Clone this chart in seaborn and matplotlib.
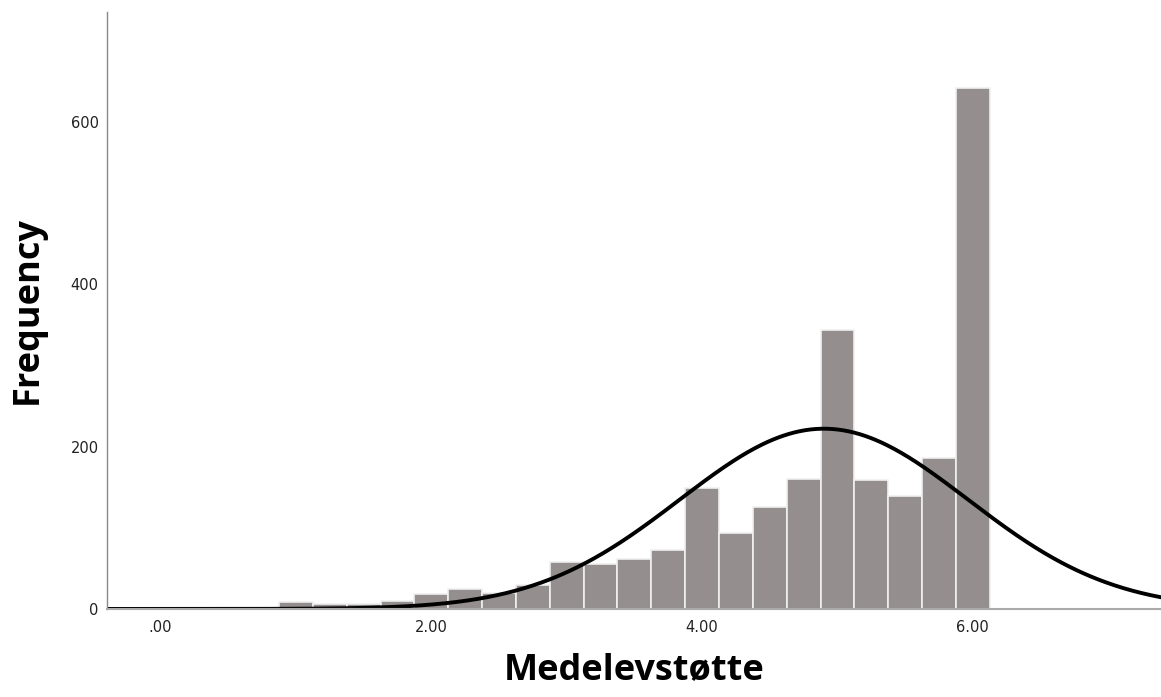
import numpy as np
import pandas as pd
import seaborn as sns
import matplotlib.pyplot as plt

# Histogram bins (centres) and counts
bin_centers = [1.00, 1.25, 1.50, 1.75, 2.00, 2.25, 2.50, 2.75, 3.00, 3.25, 3.50,
               3.75, 4.00, 4.25, 4.50, 4.75, 5.00, 5.25, 5.50, 5.75, 6.00]
counts = [9, 6, 6, 10, 19, 25, 20, 30, 58, 55, 62,
          73, 149, 94, 125, 160, 344, 159, 139, 186, 641]
bin_width = 0.25

# Normal curve parameters (SPSS-style fitted curve)
mean_val = 4.90
sd_val = 1.065

x_ticks = [0, 2, 4, 6]
x_ticklabels = ['.00', '2.00', '4.00', '6.00']
y_ticks = [0, 200, 400, 600]

df = pd.DataFrame({'Medelevstøtte': bin_centers, 'count': counts})
edges = [c - bin_width / 2 for c in bin_centers] + [bin_centers[-1] + bin_width / 2]

sns.set_style('white')
plt.rcParams['font.family'] = ['DejaVu Sans']

fig = plt.figure(figsize=(11.61, 6.97), dpi=100)
ax = fig.add_axes([0.0922, 0.1263, 0.9078, 0.8565])

sns.histplot(data=df, x='Medelevstøtte', weights='count', bins=edges, ax=ax,
             color='#948f8e', alpha=1.0, edgecolor='#f0f0f0', linewidth=1.2)

# Fitted normal curve scaled to frequency
n_total = sum(counts)
xs = np.linspace(-0.5, 7.5, 600)
ys = n_total * bin_width / (sd_val * np.sqrt(2 * np.pi)) * np.exp(-0.5 * ((xs - mean_val) / sd_val) ** 2)
sns.lineplot(x=xs, y=ys, ax=ax, color='black', linewidth=2.8)

ax.set_xlim(-0.395, 7.39)
ax.set_ylim(0, 735)
ax.set_xticks(x_ticks)
ax.set_xticklabels(x_ticklabels)
ax.set_yticks(y_ticks)
ax.tick_params(axis='both', length=0, labelsize=10.5, colors='#222222')
ax.tick_params(axis='x', pad=8)
ax.tick_params(axis='y', pad=6)

for s in ['top', 'right']:
    ax.spines[s].set_visible(False)
ax.spines['left'].set_color('#888888')
ax.spines['bottom'].set_color('#aaaaaa')
ax.spines['left'].set_linewidth(1.0)
ax.spines['bottom'].set_linewidth(1.5)

ax.set_xlabel('Medelevstøtte', fontsize=26, fontweight='bold', family='Open Sans',
              color='black', labelpad=12)
ax.set_ylabel('Frequency', fontsize=26, fontweight='bold', family='Open Sans',
              color='black', labelpad=18)

fig.savefig('out.png', dpi=100)
